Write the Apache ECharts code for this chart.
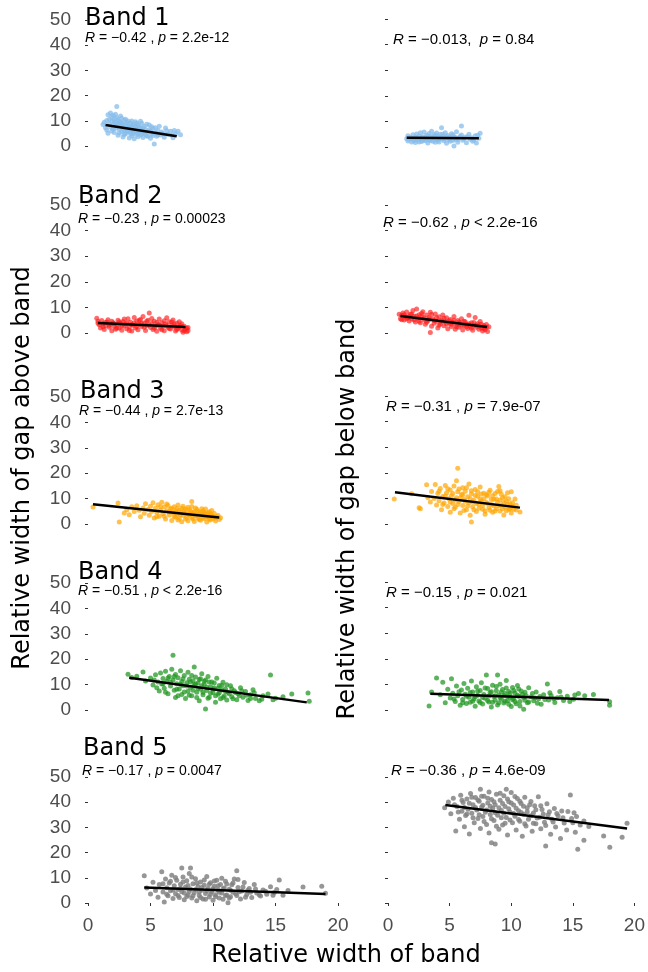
<!DOCTYPE html>
<html>
<head>
<meta charset="utf-8">
<script src="https://cdn.jsdelivr.net/npm/echarts@6/dist/echarts.min.js"></script>
<style>
html,body{margin:0;padding:0;background:#fff;}
#chart{width:648px;height:972px;}
</style>
</head>
<body>
<div id="chart"></div>
<script>
// ---------------- DATA ----------------
const xTickValues = [0, 5, 10, 15, 20];
const yTickValues = [0, 10, 20, 30, 40, 50];
const bandNames = ['Band 1', 'Band 2', 'Band 3', 'Band 4', 'Band 5'];
const xTitle = 'Relative width of band';
const yTitleAbove = 'Relative width of gap above band';
const yTitleBelow = 'Relative width of gap below band';

const statAbove = [
  ['−0.42', '=', '2.2e-12'],
  ['−0.23', '=', '0.00023'],
  ['−0.44', '=', '2.7e-13'],
  ['−0.51', '<', '2.2e-16'],
  ['−0.17', '=', '0.0047']
];
const statBelow = [
  ['−0.013', '=', '0.84'],
  ['−0.62', '<', '2.2e-16'],
  ['−0.31', '=', '7.9e-07'],
  ['−0.15', '=', '0.021'],
  ['−0.36', '=', '4.6e-09']
];

// regression line end points [x, y]
const fitAbove1 = [[1.4, 8.3], [7.1, 3.9]];
const fitAbove2 = [[0.8, 3.9], [7.8, 2.3]];
const fitAbove3 = [[0.4, 7.8], [10.5, 2.6]];
const fitAbove4 = [[3.3, 12.7], [17.5, 3.0]];
const fitAbove5 = [[4.5, 6.2], [19.0, 3.6]];
const fitBelow1 = [[1.5, 3.6], [7.3, 3.4]];
const fitBelow2 = [[1.0, 6.6], [7.95, 2.3]];
const fitBelow3 = [[0.56, 12.4], [10.6, 6.4]];
const fitBelow4 = [[3.4, 6.3], [17.75, 3.9]];
const fitBelow5 = [[4.65, 38.9], [19.4, 29.6]];

const above1 = [[1.2,8.5],[1.3,9.4],[1.4,7.2],[1.5,10.1],[1.5,6.3],[1.6,12.4],[1.6,5.1],[1.7,8.8],[1.8,13.1],[1.8,7.5],[1.9,9.9],[1.9,6.0],[2.0,12.2],[2.0,8.1],[2.1,10.8],[2.1,5.4],[2.2,9.2],[2.2,7.0],[2.3,15.7],[2.3,11.3],[2.4,8.6],[2.4,4.3],[2.5,9.8],[2.5,6.6],[2.6,7.8],[2.6,11.9],[2.7,5.8],[2.7,9.0],[2.8,3.6],[2.8,7.3],[2.9,10.2],[2.9,6.2],[3.0,8.4],[3.0,4.9],[3.1,7.0],[3.1,9.4],[3.2,5.6],[3.2,8.0],[3.3,3.2],[3.3,6.8],[3.4,9.1],[3.4,5.0],[3.5,7.6],[3.5,4.1],[3.6,6.3],[3.6,8.5],[3.7,2.9],[3.7,5.5],[3.8,7.4],[3.8,9.6],[3.9,4.6],[3.9,6.7],[4.0,8.2],[4.0,3.7],[4.1,5.9],[4.2,7.1],[4.2,4.4],[4.3,9.0],[4.3,6.1],[4.4,3.4],[4.5,5.2],[4.5,7.7],[4.6,6.5],[4.7,4.0],[4.8,5.7],[4.9,8.3],[5.0,3.1],[5.0,6.0],[5.1,4.8],[5.2,6.9],[5.3,0.8],[5.4,5.3],[5.5,3.9],[5.6,6.2],[5.8,4.4],[5.9,5.6],[6.1,3.5],[6.2,7.1],[6.4,4.7],[6.6,5.9],[6.8,3.3],[7.0,4.9],[7.2,5.9],[7.4,4.5],
  [1.7,10.6],[1.9,11.5],[2.0,6.8],[2.1,9.6],[2.2,12.6],[2.3,7.9],[2.4,10.4],[2.5,5.2],[2.6,9.3],[2.7,11.0],[2.8,8.4],[2.9,4.6],[3.0,10.6],[3.1,6.0],[3.2,9.9],[3.3,7.7],[3.4,6.2],[3.5,9.9],[3.6,4.9],[3.7,8.0],[3.8,6.0],[3.9,9.0],[4.0,5.2],[4.1,7.6],[4.2,9.8],[4.3,4.9],[4.4,7.0],[4.6,4.6],[4.7,8.6],[4.8,3.9],[4.9,6.4],[5.1,7.6],[5.2,4.2],[5.4,7.2],[5.6,4.5],[5.7,7.8],[6.0,5.0],[6.3,6.1],[6.7,4.4],[6.9,6.2]];
const above2 = [[0.7,5.8],[0.8,4.6],[0.9,3.2],[1.0,2.0],[1.1,4.9],[1.2,3.6],[1.3,1.4],[1.4,2.8],[1.5,4.3],[1.6,5.2],[1.7,2.2],[1.8,3.5],[1.9,0.9],[2.0,4.0],[2.1,2.6],[2.2,1.5],[2.3,3.3],[2.4,5.0],[2.5,2.0],[2.6,3.8],[2.7,1.1],[2.8,4.5],[2.9,2.7],[3.0,3.6],[3.1,1.7],[3.2,5.6],[3.3,2.3],[3.4,4.2],[3.5,0.8],[3.6,3.0],[3.7,6.1],[3.8,2.0],[3.9,4.7],[4.0,1.3],[4.1,3.4],[4.2,5.3],[4.3,2.5],[4.4,6.4],[4.5,3.9],[4.6,1.0],[4.7,2.9],[4.8,5.0],[4.9,7.8],[5.0,2.1],[5.1,3.7],[5.2,1.4],[5.3,4.6],[5.4,2.6],[5.5,0.7],[5.6,3.3],[5.7,5.5],[5.8,1.9],[5.9,4.0],[6.0,2.7],[6.1,0.9],[6.2,3.5],[6.3,6.0],[6.4,2.2],[6.5,4.4],[6.6,1.6],[6.7,3.1],[6.8,5.1],[6.9,2.4],[7.0,0.8],[7.1,3.8],[7.2,1.8],[7.3,4.4],[7.4,2.9],[7.5,1.2],[7.6,0.3],[7.7,2.6],[7.8,1.6],[7.9,0.5],[8.0,2.1],
  [0.8,3.8],[1.2,2.4],[1.4,4.1],[1.7,3.0],[1.9,4.6],[2.1,3.6],[2.3,1.9],[2.5,4.4],[2.7,2.9],[2.9,5.5],[3.1,3.8],[3.3,1.0],[3.5,3.3],[3.7,4.0],[3.9,2.5],[4.1,5.0],[4.3,3.7],[4.5,2.2],[4.7,4.6],[4.9,3.1],[5.1,5.7],[5.3,2.0],[5.5,4.1],[5.7,3.0],[5.9,1.3],[6.1,4.8],[6.3,2.9],[6.5,1.8],[6.7,4.3],[6.9,3.5],[7.1,1.4],[7.3,2.4],[7.5,3.6],[7.7,0.9],[7.9,1.9],[8.0,1.0]];
const above3 = [[0.4,6.7],[2.4,8.3],[2.5,0.8],[2.9,4.3],[3.1,5.6],[3.3,3.6],[3.5,6.8],[3.7,4.9],[3.9,7.2],[4.1,5.4],[4.2,2.9],[4.4,6.3],[4.5,4.2],[4.6,8.0],[4.8,5.7],[4.9,3.4],[5.0,7.0],[5.1,5.0],[5.2,8.4],[5.3,2.4],[5.4,6.2],[5.5,4.5],[5.6,7.6],[5.7,3.1],[5.8,5.5],[5.9,8.6],[6.0,4.0],[6.1,6.7],[6.2,2.0],[6.3,5.2],[6.4,7.3],[6.5,3.5],[6.6,5.9],[6.7,1.4],[6.8,4.4],[6.9,6.8],[7.0,2.7],[7.0,5.1],[7.1,3.8],[7.2,7.5],[7.3,2.3],[7.4,4.7],[7.5,6.2],[7.5,0.9],[7.6,3.3],[7.7,5.5],[7.8,2.0],[7.9,4.1],[8.0,6.6],[8.0,1.3],[8.1,3.5],[8.2,5.0],[8.3,8.9],[8.3,2.6],[8.4,4.4],[8.5,1.0],[8.6,3.2],[8.7,5.8],[8.8,2.3],[8.9,4.0],[9.0,1.5],[9.1,3.4],[9.2,5.2],[9.3,2.1],[9.4,3.9],[9.5,0.8],[9.6,2.9],[9.7,4.8],[9.8,1.6],[9.9,3.3],[10.0,2.2],[10.2,1.2],[10.3,2.9],[10.5,1.8],[10.6,2.5],
  [5.5,2.9],[5.8,6.8],[6.1,3.1],[6.3,7.9],[6.5,4.8],[6.7,6.2],[6.9,3.0],[7.1,6.0],[7.2,1.6],[7.3,5.4],[7.4,3.6],[7.6,7.0],[7.7,4.2],[7.8,6.0],[7.9,2.6],[8.1,5.6],[8.2,3.9],[8.3,6.9],[8.4,2.0],[8.5,4.8],[8.6,6.3],[8.7,3.6],[8.8,5.0],[8.9,1.8],[9.0,4.5],[9.1,6.0],[9.2,2.7],[9.3,4.4],[9.4,5.9],[9.5,3.0],[9.6,4.3],[9.7,2.0],[9.8,3.8],[9.9,5.3],[10.0,3.0],[10.1,4.1],[10.2,2.4],[10.4,3.3]];
const above4 = [[3.2,14.1],[3.5,12.8],[3.9,13.3],[4.4,15.0],[4.6,11.4],[5.0,12.6],[5.2,9.8],[5.4,13.9],[5.6,11.0],[5.7,7.5],[5.8,14.6],[5.9,10.2],[6.0,12.4],[6.1,8.6],[6.2,15.3],[6.3,11.3],[6.4,6.4],[6.5,13.2],[6.6,9.4],[6.7,16.0],[6.8,21.6],[6.8,11.8],[6.9,7.8],[7.0,14.0],[7.0,4.9],[7.1,10.3],[7.2,12.7],[7.3,8.3],[7.4,15.5],[7.5,6.1],[7.5,11.2],[7.6,9.5],[7.7,13.6],[7.8,4.5],[7.9,10.7],[8.0,7.4],[8.0,14.9],[8.1,12.1],[8.2,8.9],[8.3,5.6],[8.4,11.5],[8.5,16.9],[8.5,9.8],[8.6,13.0],[8.7,7.0],[8.8,10.6],[8.9,3.6],[9.0,12.3],[9.0,8.2],[9.1,14.3],[9.2,6.0],[9.3,10.0],[9.4,0.4],[9.4,11.8],[9.5,7.7],[9.6,13.2],[9.7,5.0],[9.8,9.2],[9.9,11.0],[10.0,6.9],[10.1,8.7],[10.2,3.1],[10.3,12.5],[10.4,6.2],[10.5,9.6],[10.6,4.4],[10.7,7.9],[10.8,10.9],[10.9,5.5],[11.0,8.3],[11.1,3.9],[11.2,7.0],[11.4,9.5],[11.5,5.2],[11.7,7.6],[11.9,4.0],[12.0,6.5],[12.2,8.8],[12.4,5.0],[12.6,7.3],[12.8,3.7],[13.0,6.0],[13.2,8.0],[13.4,4.5],[13.7,3.6],[14.0,5.6],[14.6,13.8],[15.0,4.6],[16.3,6.3],[17.6,6.7],[17.7,3.4],
  [5.3,11.8],[5.5,8.8],[6.0,10.3],[6.2,7.0],[6.4,12.6],[6.6,10.9],[6.9,13.2],[7.1,8.2],[7.2,5.6],[7.4,10.1],[7.6,12.3],[7.7,7.1],[7.9,9.4],[8.1,5.8],[8.2,11.0],[8.3,13.6],[8.4,7.8],[8.6,10.2],[8.7,4.9],[8.8,8.6],[8.9,12.0],[9.1,9.5],[9.2,7.0],[9.3,11.3],[9.5,9.0],[9.6,4.6],[9.7,11.0],[9.8,6.6],[10.0,8.3],[10.1,10.6],[10.2,5.6],[10.4,8.6],[10.5,6.8],[10.7,9.6],[10.8,4.9],[11.0,7.3],[11.1,9.9],[11.3,6.4],[11.5,8.4],[11.6,4.4],[11.8,6.9],[12.1,5.6],[12.3,7.6],[12.7,5.8],[13.0,4.5],[13.3,6.8],[13.9,4.2],[14.4,6.3],[14.8,4.0],[15.6,5.2]];
const above5 = [[4.5,10.8],[4.7,6.0],[5.0,3.6],[5.2,8.2],[5.4,5.0],[5.6,2.3],[5.7,7.3],[5.9,12.4],[6.0,4.4],[6.1,0.4],[6.2,9.5],[6.3,6.1],[6.4,2.9],[6.5,7.9],[6.6,4.9],[6.7,11.0],[6.8,1.8],[6.9,6.8],[7.0,3.7],[7.1,9.0],[7.2,5.4],[7.3,2.2],[7.4,7.4],[7.5,13.9],[7.5,4.5],[7.6,10.3],[7.7,1.3],[7.8,6.3],[7.9,8.8],[8.0,3.2],[8.1,11.7],[8.2,13.9],[8.2,5.6],[8.3,2.0],[8.4,7.6],[8.5,4.1],[8.6,9.6],[8.7,0.9],[8.8,6.5],[8.9,3.0],[9.0,8.3],[9.1,5.1],[9.2,1.6],[9.3,7.0],[9.4,3.8],[9.5,10.5],[9.6,5.8],[9.7,2.4],[9.8,8.0],[9.9,4.5],[10.0,1.1],[10.1,6.6],[10.2,3.3],[10.3,9.0],[10.4,5.2],[10.5,2.0],[10.6,7.3],[10.7,4.0],[10.8,1.5],[10.9,6.0],[11.0,8.6],[11.1,3.2],[11.2,0.1],[11.3,5.5],[11.4,2.5],[11.5,7.2],[11.6,4.3],[11.7,9.5],[11.9,12.8],[11.9,3.0],[12.0,6.2],[12.2,1.6],[12.3,4.8],[12.5,8.1],[12.7,3.4],[12.9,5.8],[13.1,2.2],[13.3,7.3],[13.5,4.0],[13.8,2.8],[14.0,5.2],[14.3,3.5],[14.6,6.4],[14.9,4.2],[15.3,9.1],[15.6,3.1],[16.0,5.0],[17.2,6.3],[18.7,6.6],[19.0,3.9],
  [6.0,7.6],[6.3,3.5],[6.6,8.6],[6.8,5.2],[7.0,10.1],[7.2,3.0],[7.4,5.9],[7.6,8.3],[7.7,4.0],[7.9,2.6],[8.0,6.9],[8.1,4.6],[8.3,10.3],[8.4,2.9],[8.6,5.4],[8.7,7.9],[8.9,4.4],[9.0,2.2],[9.1,6.2],[9.3,9.1],[9.4,1.5],[9.5,4.9],[9.7,7.4],[9.8,3.5],[10.0,5.7],[10.1,8.7],[10.2,2.5],[10.4,6.8],[10.5,4.3],[10.7,9.8],[10.8,5.6],[11.0,3.0],[11.1,7.5],[11.3,2.0],[11.4,5.1],[11.6,7.9],[11.8,3.8],[12.0,9.3],[12.1,4.5],[12.4,6.3],[12.6,2.3],[12.8,5.1],[13.0,4.3],[13.4,5.6],[13.7,3.3],[14.2,4.7],[14.8,3.1],[15.1,5.4]];

const below1 = [[1.5,3.2],[1.6,4.4],[1.6,2.3],[1.8,3.7],[1.9,2.0],[2.0,4.8],[2.0,3.0],[2.2,3.9],[2.2,1.8],[2.3,5.1],[2.4,2.7],[2.5,4.2],[2.6,3.3],[2.6,5.6],[2.7,2.1],[2.8,4.0],[2.9,3.0],[2.9,5.9],[3.0,2.4],[3.1,4.6],[3.1,3.5],[3.2,1.6],[3.3,5.3],[3.3,2.8],[3.4,4.1],[3.5,3.2],[3.5,6.2],[3.6,2.2],[3.7,4.8],[3.7,3.7],[3.8,1.9],[3.9,5.5],[3.9,2.9],[4.0,4.3],[4.1,3.4],[4.1,2.0],[4.2,5.0],[4.3,7.5],[4.3,3.1],[4.4,4.1],[4.5,2.4],[4.6,5.6],[4.6,3.6],[4.7,1.5],[4.8,4.5],[4.9,2.8],[5.0,3.9],[5.1,5.2],[5.2,2.5],[5.3,0.4],[5.3,4.1],[5.4,3.0],[5.5,6.0],[5.6,1.9],[5.7,3.6],[5.9,8.2],[5.9,4.7],[6.0,2.6],[6.2,3.9],[6.3,1.7],[6.5,5.0],[6.6,3.0],[6.8,2.2],[7.0,4.4],[7.1,1.6],[7.3,3.4],[7.4,5.4],
  [1.7,3.0],[2.1,2.5],[2.3,3.5],[2.5,2.0],[2.7,3.8],[2.8,2.6],[3.0,3.6],[3.2,4.3],[3.4,2.5],[3.6,3.9],[3.8,4.6],[4.0,2.6],[4.2,3.6],[4.4,5.0],[4.5,3.2],[4.7,4.0],[4.9,3.4],[5.0,2.2],[5.2,4.8],[5.4,3.7],[5.6,2.9],[5.8,4.2],[6.1,3.3],[6.4,4.0],[6.7,3.6],[6.9,2.7],[7.2,4.6]];
const below2 = [[0.9,7.3],[1.0,5.6],[1.1,6.9],[1.2,7.8],[1.3,5.1],[1.4,6.4],[1.5,8.2],[1.6,6.0],[1.7,4.7],[1.8,7.3],[1.9,5.5],[2.0,8.8],[2.1,6.5],[2.2,4.3],[2.3,9.4],[2.4,5.8],[2.5,7.1],[2.6,4.0],[2.7,6.4],[2.8,8.3],[2.9,5.2],[3.0,3.4],[3.1,7.0],[3.2,4.8],[3.3,6.1],[3.4,0.2],[3.4,8.1],[3.5,2.6],[3.6,5.5],[3.7,3.8],[3.8,7.4],[3.9,4.6],[4.0,2.0],[4.1,6.3],[4.2,3.5],[4.3,5.1],[4.4,7.0],[4.5,2.8],[4.6,4.4],[4.7,6.0],[4.8,1.7],[4.9,3.9],[5.0,5.3],[5.1,2.5],[5.2,4.2],[5.3,6.4],[5.4,1.5],[5.5,3.3],[5.6,4.9],[5.7,2.2],[5.8,3.8],[5.9,5.6],[6.0,1.2],[6.1,2.9],[6.2,4.4],[6.3,3.4],[6.4,1.8],[6.5,6.9],[6.6,2.6],[6.7,4.0],[6.8,1.1],[6.9,3.0],[7.0,6.1],[7.1,2.2],[7.2,3.6],[7.3,1.5],[7.4,4.5],[7.5,2.0],[7.6,0.8],[7.7,2.9],[7.8,1.3],[7.9,3.3],[8.0,0.6],[8.1,2.4],
  [1.1,5.2],[1.3,7.1],[1.5,5.6],[1.7,6.5],[1.9,7.4],[2.1,5.1],[2.3,6.6],[2.5,4.6],[2.7,7.6],[2.9,6.0],[3.1,4.2],[3.3,5.4],[3.5,7.2],[3.7,4.9],[3.9,6.0],[4.1,3.0],[4.3,4.5],[4.5,5.8],[4.7,3.5],[4.9,4.8],[5.1,3.4],[5.3,5.0],[5.5,2.4],[5.7,4.3],[5.9,3.0],[6.1,4.6],[6.3,2.4],[6.5,3.6],[6.7,2.0],[6.9,4.1],[7.1,3.0],[7.3,2.7],[7.5,3.4],[7.7,1.8],[7.9,2.2]];
const below3 = [[0.5,9.8],[1.9,11.8],[2.5,6.3],[2.6,6.0],[3.1,15.3],[3.2,10.4],[3.4,8.6],[3.5,12.7],[3.7,10.0],[3.8,15.4],[3.9,7.4],[4.0,11.9],[4.1,9.1],[4.2,13.9],[4.3,5.6],[4.4,10.7],[4.5,8.2],[4.6,15.0],[4.7,12.1],[4.8,6.8],[4.9,9.9],[5.0,13.3],[5.0,4.6],[5.1,11.0],[5.2,8.0],[5.3,14.8],[5.4,6.5],[5.5,16.9],[5.5,10.3],[5.6,21.8],[5.6,12.6],[5.7,8.8],[5.8,4.3],[5.9,11.5],[6.0,14.2],[6.0,7.2],[6.1,9.6],[6.2,12.8],[6.3,5.6],[6.4,10.6],[6.5,15.6],[6.5,8.3],[6.6,3.4],[6.7,0.8],[6.7,11.8],[6.8,6.7],[6.9,9.3],[7.0,13.5],[7.1,4.9],[7.2,10.8],[7.3,7.7],[7.4,14.5],[7.5,9.0],[7.6,5.8],[7.7,12.0],[7.8,3.8],[7.9,8.4],[8.0,10.9],[8.1,6.3],[8.2,13.2],[8.3,7.6],[8.4,4.6],[8.5,9.7],[8.6,11.9],[8.7,6.0],[8.8,8.5],[8.9,14.6],[9.0,5.1],[9.0,13.0],[9.1,7.4],[9.2,10.3],[9.3,3.5],[9.4,6.6],[9.5,8.9],[9.6,12.2],[9.7,5.7],[9.8,7.9],[9.9,12.6],[9.9,4.3],[10.0,6.8],[10.2,9.8],[10.3,5.5],[10.6,4.7],
  [4.1,12.8],[4.4,7.6],[4.6,10.9],[4.8,13.8],[5.0,8.6],[5.2,11.9],[5.3,6.0],[5.4,9.4],[5.6,7.6],[5.7,13.7],[5.8,10.2],[6.0,11.4],[6.1,5.3],[6.2,8.9],[6.3,14.2],[6.4,7.0],[6.6,10.0],[6.7,13.0],[6.8,8.6],[6.9,5.6],[7.0,11.1],[7.1,8.0],[7.2,12.6],[7.3,6.2],[7.4,9.8],[7.5,11.7],[7.6,7.2],[7.7,9.9],[7.8,5.1],[7.9,11.4],[8.0,8.0],[8.1,12.4],[8.2,5.4],[8.3,9.6],[8.4,11.0],[8.5,7.1],[8.6,5.1],[8.7,9.8],[8.8,12.7],[8.9,7.1],[9.0,9.4],[9.1,11.6],[9.2,6.0],[9.3,8.4],[9.4,10.6],[9.5,5.2],[9.6,7.6],[9.7,9.9],[9.8,6.0],[10.0,8.3],[10.1,5.8],[10.3,7.3]];
const below4 = [[3.3,1.6],[3.5,7.0],[3.9,12.5],[4.2,6.0],[4.4,10.8],[4.6,2.8],[4.8,8.1],[5.0,4.7],[5.1,12.2],[5.2,6.5],[5.4,3.3],[5.5,9.4],[5.6,5.6],[5.8,1.9],[5.9,7.8],[6.0,4.1],[6.1,10.4],[6.2,6.2],[6.3,2.5],[6.4,8.5],[6.5,5.0],[6.6,3.0],[6.7,11.3],[6.8,7.0],[6.9,4.3],[7.0,1.5],[7.1,9.1],[7.2,5.8],[7.3,3.5],[7.4,7.6],[7.5,10.6],[7.6,2.3],[7.7,6.1],[7.8,4.6],[7.9,13.7],[8.0,8.4],[8.1,3.1],[8.2,6.8],[8.3,1.2],[8.4,9.7],[8.5,5.3],[8.6,3.8],[8.7,7.5],[8.8,13.7],[8.8,2.0],[8.9,5.9],[9.0,10.1],[9.1,4.2],[9.2,8.0],[9.3,2.7],[9.4,6.4],[9.5,11.5],[9.6,3.6],[9.7,7.2],[9.8,5.0],[9.9,1.4],[10.0,8.8],[10.1,4.5],[10.2,6.6],[10.3,2.4],[10.4,9.6],[10.5,5.4],[10.6,3.3],[10.7,7.4],[10.9,0.3],[10.9,4.9],[11.0,6.9],[11.2,2.8],[11.3,8.7],[11.5,5.2],[11.7,3.6],[11.9,7.0],[12.1,4.4],[12.3,2.2],[12.5,6.0],[12.8,10.2],[12.9,3.9],[13.1,5.7],[13.4,2.9],[13.6,4.8],[13.8,7.2],[14.1,3.7],[14.4,5.4],[14.9,4.2],[15.3,6.4],[15.8,5.6],[16.5,6.1],[17.8,1.9],[17.8,3.2],
  [5.3,4.3],[5.7,7.1],[6.0,2.8],[6.3,5.4],[6.6,6.8],[6.8,3.4],[7.0,5.2],[7.2,7.4],[7.4,2.9],[7.6,4.9],[7.8,8.6],[8.0,3.7],[8.1,5.5],[8.3,7.1],[8.4,3.0],[8.6,5.6],[8.7,9.2],[8.9,2.8],[9.0,4.9],[9.1,7.0],[9.3,5.6],[9.4,3.4],[9.5,8.6],[9.6,5.3],[9.7,2.2],[9.8,6.5],[10.0,4.0],[10.1,7.6],[10.2,3.3],[10.4,5.8],[10.5,8.2],[10.6,1.6],[10.8,6.2],[11.0,3.8],[11.1,5.6],[11.3,3.1],[11.6,6.4],[11.8,4.7],[12.0,2.6],[12.2,5.3],[12.6,4.1],[13.0,6.7],[13.3,4.4],[13.9,5.1],[14.6,3.3],[15.0,5.9]];
const below5 = [[4.6,37.8],[4.9,40.1],[5.1,35.4],[5.3,41.6],[5.5,28.6],[5.6,38.3],[5.8,33.2],[5.9,42.8],[6.0,36.4],[6.1,39.9],[6.2,30.3],[6.3,34.7],[6.4,41.3],[6.5,37.2],[6.6,27.4],[6.7,43.5],[6.8,35.6],[6.9,39.0],[7.0,31.8],[7.1,41.9],[7.2,36.9],[7.3,33.5],[7.4,40.4],[7.5,45.1],[7.5,29.6],[7.6,38.1],[7.7,34.3],[7.8,42.4],[7.9,36.0],[8.0,31.2],[8.1,39.7],[8.2,44.0],[8.2,27.8],[8.3,35.1],[8.4,23.9],[8.4,41.1],[8.5,37.6],[8.6,32.7],[8.7,23.4],[8.7,39.0],[8.8,43.2],[8.9,34.8],[9.0,29.3],[9.1,40.8],[9.2,36.7],[9.3,31.0],[9.4,42.6],[9.5,38.3],[9.6,45.1],[9.6,33.9],[9.7,27.0],[9.8,40.2],[9.9,36.1],[10.0,43.8],[10.1,31.8],[10.2,38.9],[10.3,34.4],[10.4,29.0],[10.5,41.5],[10.6,36.6],[10.7,32.4],[10.8,39.5],[10.9,26.5],[11.0,35.2],[11.1,42.0],[11.2,30.6],[11.3,37.8],[11.4,33.2],[11.6,40.3],[11.7,28.5],[11.8,35.7],[11.9,38.6],[12.0,31.4],[12.2,42.2],[12.3,34.0],[12.4,29.5],[12.5,37.1],[12.7,32.0],[12.8,22.6],[12.9,39.4],[13.0,35.0],[13.2,27.3],[13.3,33.2],[13.5,37.5],[13.6,30.2],[13.8,34.6],[14.0,25.6],[14.1,36.5],[14.3,31.7],[14.5,29.0],[14.8,42.9],[14.9,33.5],[15.1,35.8],[15.2,28.1],[15.4,21.3],[15.6,31.0],[15.9,32.5],[15.9,24.9],[16.3,30.4],[17.5,26.6],[18.0,22.1],[19.0,26.1],[19.4,31.6],
  [5.4,39.0],[5.7,36.1],[6.0,40.8],[6.2,37.9],[6.4,35.3],[6.6,39.6],[6.8,42.0],[6.9,33.8],[7.1,37.9],[7.3,40.9],[7.4,35.0],[7.6,42.4],[7.7,38.8],[7.8,32.3],[8.0,36.9],[8.1,41.6],[8.3,38.4],[8.4,33.4],[8.6,40.2],[8.7,35.8],[8.8,30.5],[9.0,37.8],[9.1,43.6],[9.2,33.8],[9.3,39.5],[9.4,35.6],[9.5,31.6],[9.7,41.3],[9.8,37.4],[9.9,32.9],[10.0,39.7],[10.2,35.5],[10.3,42.3],[10.4,37.6],[10.6,33.1],[10.7,40.4],[10.8,35.9],[11.0,38.4],[11.1,31.4],[11.3,36.2],[11.5,39.0],[11.6,34.6],[11.8,31.6],[12.0,37.0],[12.1,33.7],[12.4,38.6],[12.6,35.3],[12.8,30.8],[13.1,36.2],[13.4,32.1],[13.7,35.5],[14.2,33.8],[14.6,36.3],[15.0,31.8],[15.3,34.3]];

// ---------------- LAYOUT / STYLE ----------------
const aboveSets = [above1, above2, above3, above4, above5];
const belowSets = [below1, below2, below3, below4, below5];
const aboveFits = [fitAbove1, fitAbove2, fitAbove3, fitAbove4, fitAbove5];
const belowFits = [fitBelow1, fitBelow2, fitBelow3, fitBelow4, fitBelow5];
const bandColors = ['#86BCEB', '#FF1A1A', '#FFA500', '#1F961F', '#7F7F7F'];
const bandOpacity = [0.75, 0.65, 0.7, 0.72, 0.82];

const leftGridsPos = [[20,126],[205,128],[397,127],[583,127],[777,126]];
const rightGridsPos = [[19,128],[205,128],[396,128],[582,128],[777,126]];
const titlePos = [[85,19],[78,197],[80,392],[78,573],[83,749]];
const statAbovePos = [[85,38],[78,219],[79,411],[78,591],[82,771]];
const statBelowPos = [[393,40],[383,223],[386,407],[386,593],[391,771]];

const tickFont = '"Liberation Sans", Arial, sans-serif';
const titleFont = '"DejaVu Sans", Verdana, sans-serif';

const grids = [], xAxes = [], yAxes = [], series = [], graphics = [];

function addPanel(col, row) {
  const idx = grids.length;
  const pos = col === 0 ? leftGridsPos[row] : rightGridsPos[row];
  grids.push({
    left: col === 0 ? 88 : 388,
    width: col === 0 ? 250 : 249,
    top: pos[0],
    height: pos[1]
  });
  const bottom = row === 4;
  xAxes.push({
    gridIndex: idx, type: 'value', min: 0, max: 20, interval: 5,
    show: bottom, offset: 7,
    axisLine: {show: false}, splitLine: {show: false},
    axisTick: {show: true, length: 3, lineStyle: {color: '#333', width: 1}},
    axisLabel: {show: true, margin: 6, color: '#4d4d4d', fontSize: 19, fontFamily: tickFont,
      formatter: v => xTickValues.indexOf(v) >= 0 ? String(v) : ''}
  });
  yAxes.push({
    gridIndex: idx, type: 'value', min: 0, max: 50, interval: 10,
    offset: col === 0 ? 15 : 14,
    axisLine: {show: false}, splitLine: {show: false},
    axisTick: {show: true, length: 3, lineStyle: {color: '#333', width: 1}},
    axisLabel: {show: col === 0, margin: 2, color: '#4d4d4d', fontSize: 19, fontFamily: tickFont,
      formatter: v => yTickValues.indexOf(v) >= 0 ? String(v) : ''}
  });
  const pts = col === 0 ? aboveSets[row] : belowSets[row];
  const fit = col === 0 ? aboveFits[row] : belowFits[row];
  series.push({
    type: 'scatter', xAxisIndex: idx, yAxisIndex: idx, data: pts, clip: false,
    symbolSize: 5, silent: true,
    itemStyle: {color: bandColors[row], opacity: bandOpacity[row]}
  });
  series.push({
    type: 'line', xAxisIndex: idx, yAxisIndex: idx, data: fit, clip: false,
    showSymbol: false, symbol: 'none', silent: true, z: 5,
    lineStyle: {color: '#000', width: 2.5}
  });
  const st = col === 0 ? statAbove[row] : statBelow[row];
  const sp = col === 0 ? statAbovePos[row] : statBelowPos[row];
  let txt;
  if (col === 1 && row === 0) {
    txt = '{i|R} = ' + st[0] + ',  {i|p} ' + st[1] + ' ' + st[2];
  } else {
    txt = '{i|R} = ' + st[0] + ' , {i|p} ' + st[1] + ' ' + st[2];
  }
  const fs = col === 0 ? 14 : 15;
  graphics.push({
    type: 'text', x: sp[0], y: sp[1], silent: true,
    style: {
      text: txt, fill: '#000', font: fs + 'px ' + tickFont,
      align: 'left', verticalAlign: 'middle',
      rich: {i: {fontStyle: 'italic', fontSize: fs, fontFamily: tickFont, fill: '#000'}}
    }
  });
}

for (let r = 0; r < 5; r++) { addPanel(0, r); addPanel(1, r); }

for (let r = 0; r < 5; r++) {
  graphics.push({
    type: 'text', x: titlePos[r][0], y: titlePos[r][1], silent: true,
    style: {text: bandNames[r], fill: '#000', font: '24px ' + titleFont, align: 'left', verticalAlign: 'middle'}
  });
}
graphics.push({
  type: 'text', x: 23, y: 468, rotation: Math.PI / 2, silent: true,
  style: {text: yTitleAbove, fill: '#000', font: '24px ' + titleFont, align: 'center', verticalAlign: 'middle'}
});
graphics.push({
  type: 'text', x: 348, y: 519, rotation: Math.PI / 2, silent: true,
  style: {text: yTitleBelow, fill: '#000', font: '24px ' + titleFont, align: 'center', verticalAlign: 'middle'}
});
graphics.push({
  type: 'text', x: 346, y: 956, silent: true,
  style: {text: xTitle, fill: '#000', font: '24px ' + titleFont, align: 'center', verticalAlign: 'middle'}
});

const chart = echarts.init(document.getElementById('chart'), null, {renderer: 'canvas'});
chart.setOption({
  animation: false,
  backgroundColor: '#fff',
  grid: grids,
  xAxis: xAxes,
  yAxis: yAxes,
  series: series,
  graphic: graphics
});
</script>
</body>
</html>
